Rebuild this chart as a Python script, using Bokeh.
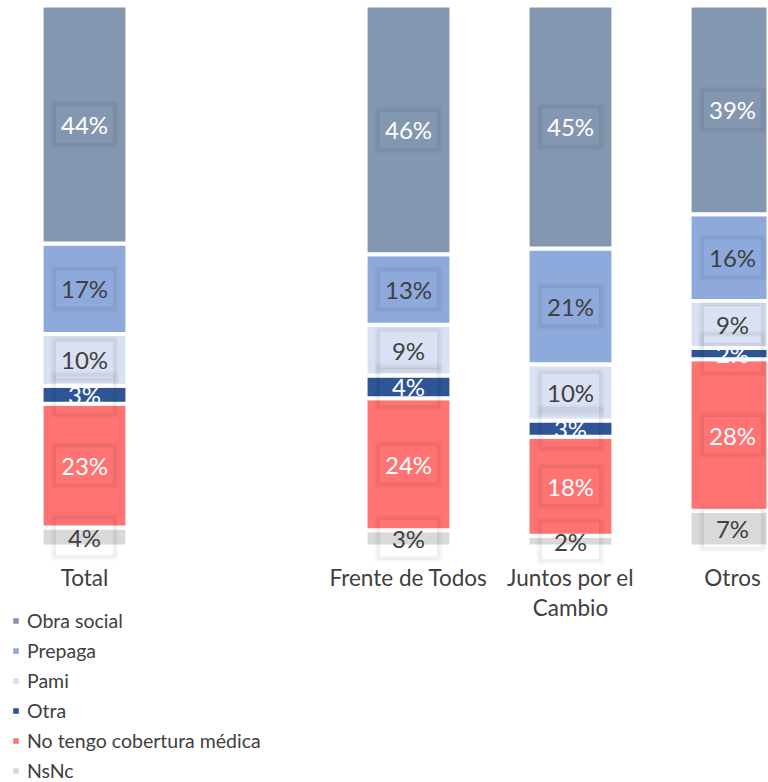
from bokeh.plotting import figure
from bokeh.models import Range1d, Legend, LegendItem, ColumnDataSource
from bokeh.core.properties import value
from bokeh.embed import file_html
from bokeh.resources import INLINE

# ---------------- data ----------------
categories = ["Total", " ", "Frente de Todos", "Juntos por el\nCambio", "Otros"]
series = ["Obra social", "Prepaga", "Pami", "Otra", "No tengo cobertura médica", "NsNc"]

obra_social   = [44.0, 0, 46.0, 44.9, 38.6]
prepaga       = [16.7, 0, 13.0, 21.4, 16.0]
pami          = [9.6, 0, 9.4, 10.4, 8.7]
otra          = [3.3, 0, 4.2, 3.0, 2.1]
sin_cobertura = [22.9, 0, 24.4, 18.3, 28.0]
nsnc          = [3.5, 0, 3.0, 2.0, 6.6]

# ---------------- style ----------------
colors = ["#8497B0", "#8EA9DB", "#D9E1F2", "#2F5597", "#FF7373", "#D9D9D9"]
label_colors = ["#FFFFFF", "#404040", "#404040", "#FFFFFF", "#FFFFFF", "#404040"]
FONT = "Lato"
TXT = "#404040"

W, H = 768, 782
SCALE = 5.41           # px per percent
Y_END = 100 + 5 / SCALE
X_PX = 162.0           # px per category slot
X_START = -84 / X_PX


def y_of(px):
    return Y_END - px / SCALE


p = figure(width=W, height=H, output_backend="svg", toolbar_location=None,
           x_range=Range1d(X_START, X_START + W / X_PX),
           y_range=Range1d(Y_END - H / SCALE, Y_END),
           min_border=0, outline_line_color=None)
p.axis.visible = False
p.grid.visible = False
p.background_fill_color = "white"
p.border_fill_color = "white"

xs = list(range(len(categories)))
values = [obra_social, prepaga, pami, otra, sin_cobertura, nsnc]
keys = ["obra", "prepaga", "pami", "otra", "sin", "nsnc"]
data = {"x": xs}
for k, v in zip(keys, values):
    data[k] = v
src = ColumnDataSource(data)

# stack from bottom: NsNc ... Obra social on top
order = list(range(len(series)))[::-1]
p.vbar_stack([keys[i] for i in order], x="x", width=0.53, source=src,
             fill_color=[colors[i] for i in order], line_color="white", line_width=4)

# data labels
lx, ly, lt, lc = [], [], [], []
for ci in xs:
    bottom = 0.0
    for i in order:
        v = values[i][ci]
        if v > 0:
            lx.append(ci)
            ly.append(bottom + v / 2)
            lt.append(f"{int(v + 0.5)}%")
            lc.append(label_colors[i])
        bottom += v
lsrc = ColumnDataSource(dict(x=lx, y=ly, t=lt, c=lc))

p.rect(x="x", y="y", width=65, height=44, width_units="screen", height_units="screen",
       source=lsrc, fill_alpha=0, line_color="#000000", line_alpha=0.025, line_width=3)
p.rect(x="x", y="y", width=61, height=40, width_units="screen", height_units="screen",
       source=lsrc, fill_alpha=0, line_color="#000000", line_alpha=0.05, line_width=3)
p.rect(x="x", y="y", width=58, height=37, width_units="screen", height_units="screen",
       source=lsrc, fill_alpha=0, line_color="#000000", line_alpha=0.05, line_width=1)
p.text(x="x", y="y", text="t", source=lsrc, text_color="c", text_font=value(FONT),
       text_font_size="24px", text_align="center", text_baseline="middle")

# category labels (multi-line split)
cx, cy, ct = [], [], []
for ci, name in enumerate(categories):
    for li, line in enumerate(name.split("\n")):
        if line.strip():
            cx.append(ci)
            cy.append(y_of(577 + 30 * li))
            ct.append(line)
p.text(x=cx, y=cy, text=ct, text_color=TXT, text_font=value(FONT), text_font_size="22.5px",
       text_align="center", text_baseline="middle")

# legend (proxy renderers placed far outside the visible range)
items = []
for i, name in enumerate(series):
    r = p.vbar(x=[-50], bottom=[-1000], top=[-999], width=0.5,
               fill_color=colors[i], line_color=None)
    items.append(LegendItem(label=name, renderers=[r]))
legend = Legend(items=items, location=(12, -3), orientation="vertical",
                glyph_width=7, glyph_height=7, label_standoff=8,
                label_height=30, spacing=0, padding=0, margin=0,
                border_line_color=None, background_fill_alpha=0,
                label_text_font=FONT, label_text_font_size="19.5px",
                label_text_color=TXT)
p.add_layout(legend)

open("out.html", "w").write(file_html(p, INLINE))
